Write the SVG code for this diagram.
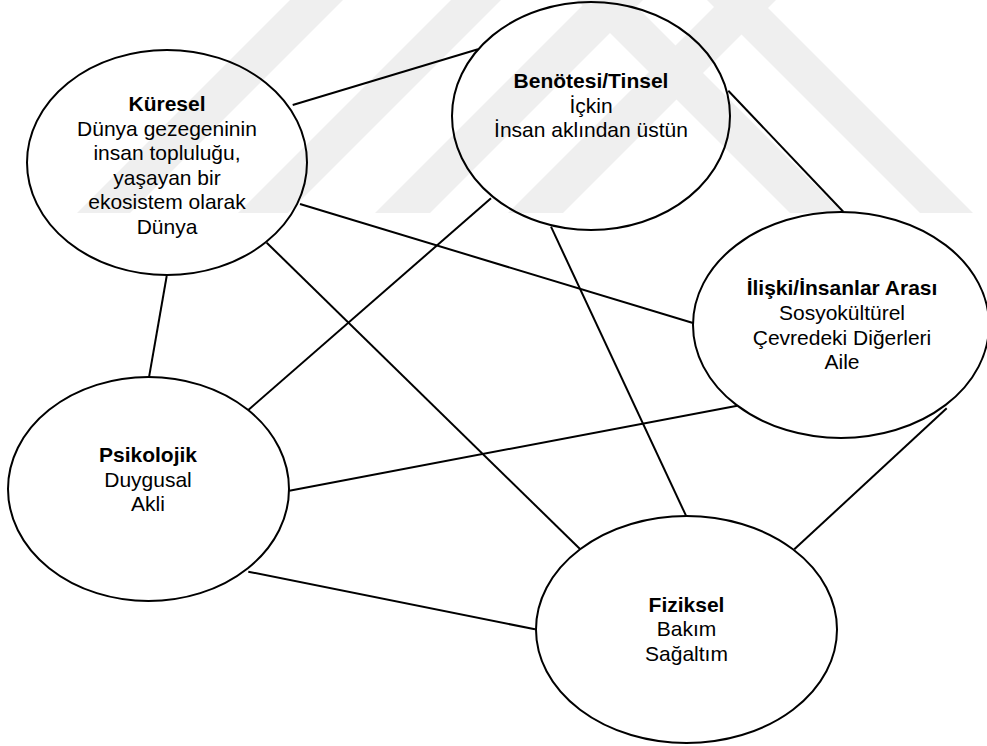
<svg xmlns="http://www.w3.org/2000/svg" width="987" height="746" viewBox="0 0 987 746">
<style>
.wm{fill:#efefef;stroke:none}
.node ellipse{fill:none;stroke:#000;stroke-width:2}
.conn line{stroke:#000;stroke-width:2;fill:none}
text{font-family:"Liberation Sans",Arial,sans-serif;font-size:21px;fill:#000;text-anchor:middle}
.b{font-weight:bold}
</style>
<rect width="987" height="746" fill="#fff"/>
<g id="watermark">
<polygon class="wm" points="77,213 130,213 343,0 290,0"/>
<polygon class="wm" points="238,213 288,213 501,0 451,0"/>
<polygon class="wm" points="375,213 430,213 643,0 588,0"/>
<polygon class="wm" points="508,213 563,213 776,0 721,0"/>
<polygon class="wm" points="577,0 630,0 843,213 790,213"/>
<polygon class="wm" points="707,0 760,0 973,213 920,213"/>
</g>
<g id="connectors" class="conn">
<line x1="292.7" y1="105" x2="478" y2="49.3"/>
<line x1="728.3" y1="90.7" x2="843.3" y2="211.7"/>
<line x1="300" y1="204" x2="693" y2="323"/>
<line x1="166.7" y1="276" x2="149" y2="377.3"/>
<line x1="266.7" y1="242.7" x2="580" y2="549"/>
<line x1="491" y1="198.3" x2="248.3" y2="410"/>
<line x1="551" y1="226.7" x2="686" y2="515.7"/>
<line x1="289.3" y1="490.7" x2="737.3" y2="405.7"/>
<line x1="946.7" y1="408.3" x2="794.3" y2="549.3"/>
<line x1="248.3" y1="571.7" x2="535" y2="629.3"/>
</g>
<g id="kuresel" class="node">
<ellipse cx="167" cy="162.5" rx="140" ry="112.5"/>
<text x="167" y="111" class="b">Küresel</text>
<text x="167" y="135.5">Dünya gezegeninin</text>
<text x="167" y="160">insan topluluğu,</text>
<text x="167" y="184.5">yaşayan bir</text>
<text x="167" y="209">ekosistem olarak</text>
<text x="167" y="233.5">Dünya</text>
</g>
<g id="benotesi" class="node">
<ellipse cx="591" cy="116" rx="139" ry="114"/>
<text x="591" y="88" class="b">Benötesi/Tinsel</text>
<text x="591" y="112.5">İçkin</text>
<text x="591" y="137">İnsan aklından üstün</text>
</g>
<g id="iliski" class="node">
<ellipse cx="841" cy="325" rx="148" ry="113"/>
<text x="842" y="295" class="b">İlişki/İnsanlar Arası</text>
<text x="842" y="320">Sosyokültürel</text>
<text x="842" y="345">Çevredeki Diğerleri</text>
<text x="842" y="369">Aile</text>
</g>
<g id="psikolojik" class="node">
<ellipse cx="148.5" cy="489" rx="140.5" ry="112"/>
<text x="148" y="462" class="b">Psikolojik</text>
<text x="148" y="487">Duygusal</text>
<text x="148" y="511">Akli</text>
</g>
<g id="fiziksel" class="node">
<ellipse cx="686.5" cy="629.5" rx="150.5" ry="113.5"/>
<text x="686.5" y="612" class="b">Fiziksel</text>
<text x="686.5" y="636">Bakım</text>
<text x="686.5" y="661">Sağaltım</text>
</g>
</svg>
